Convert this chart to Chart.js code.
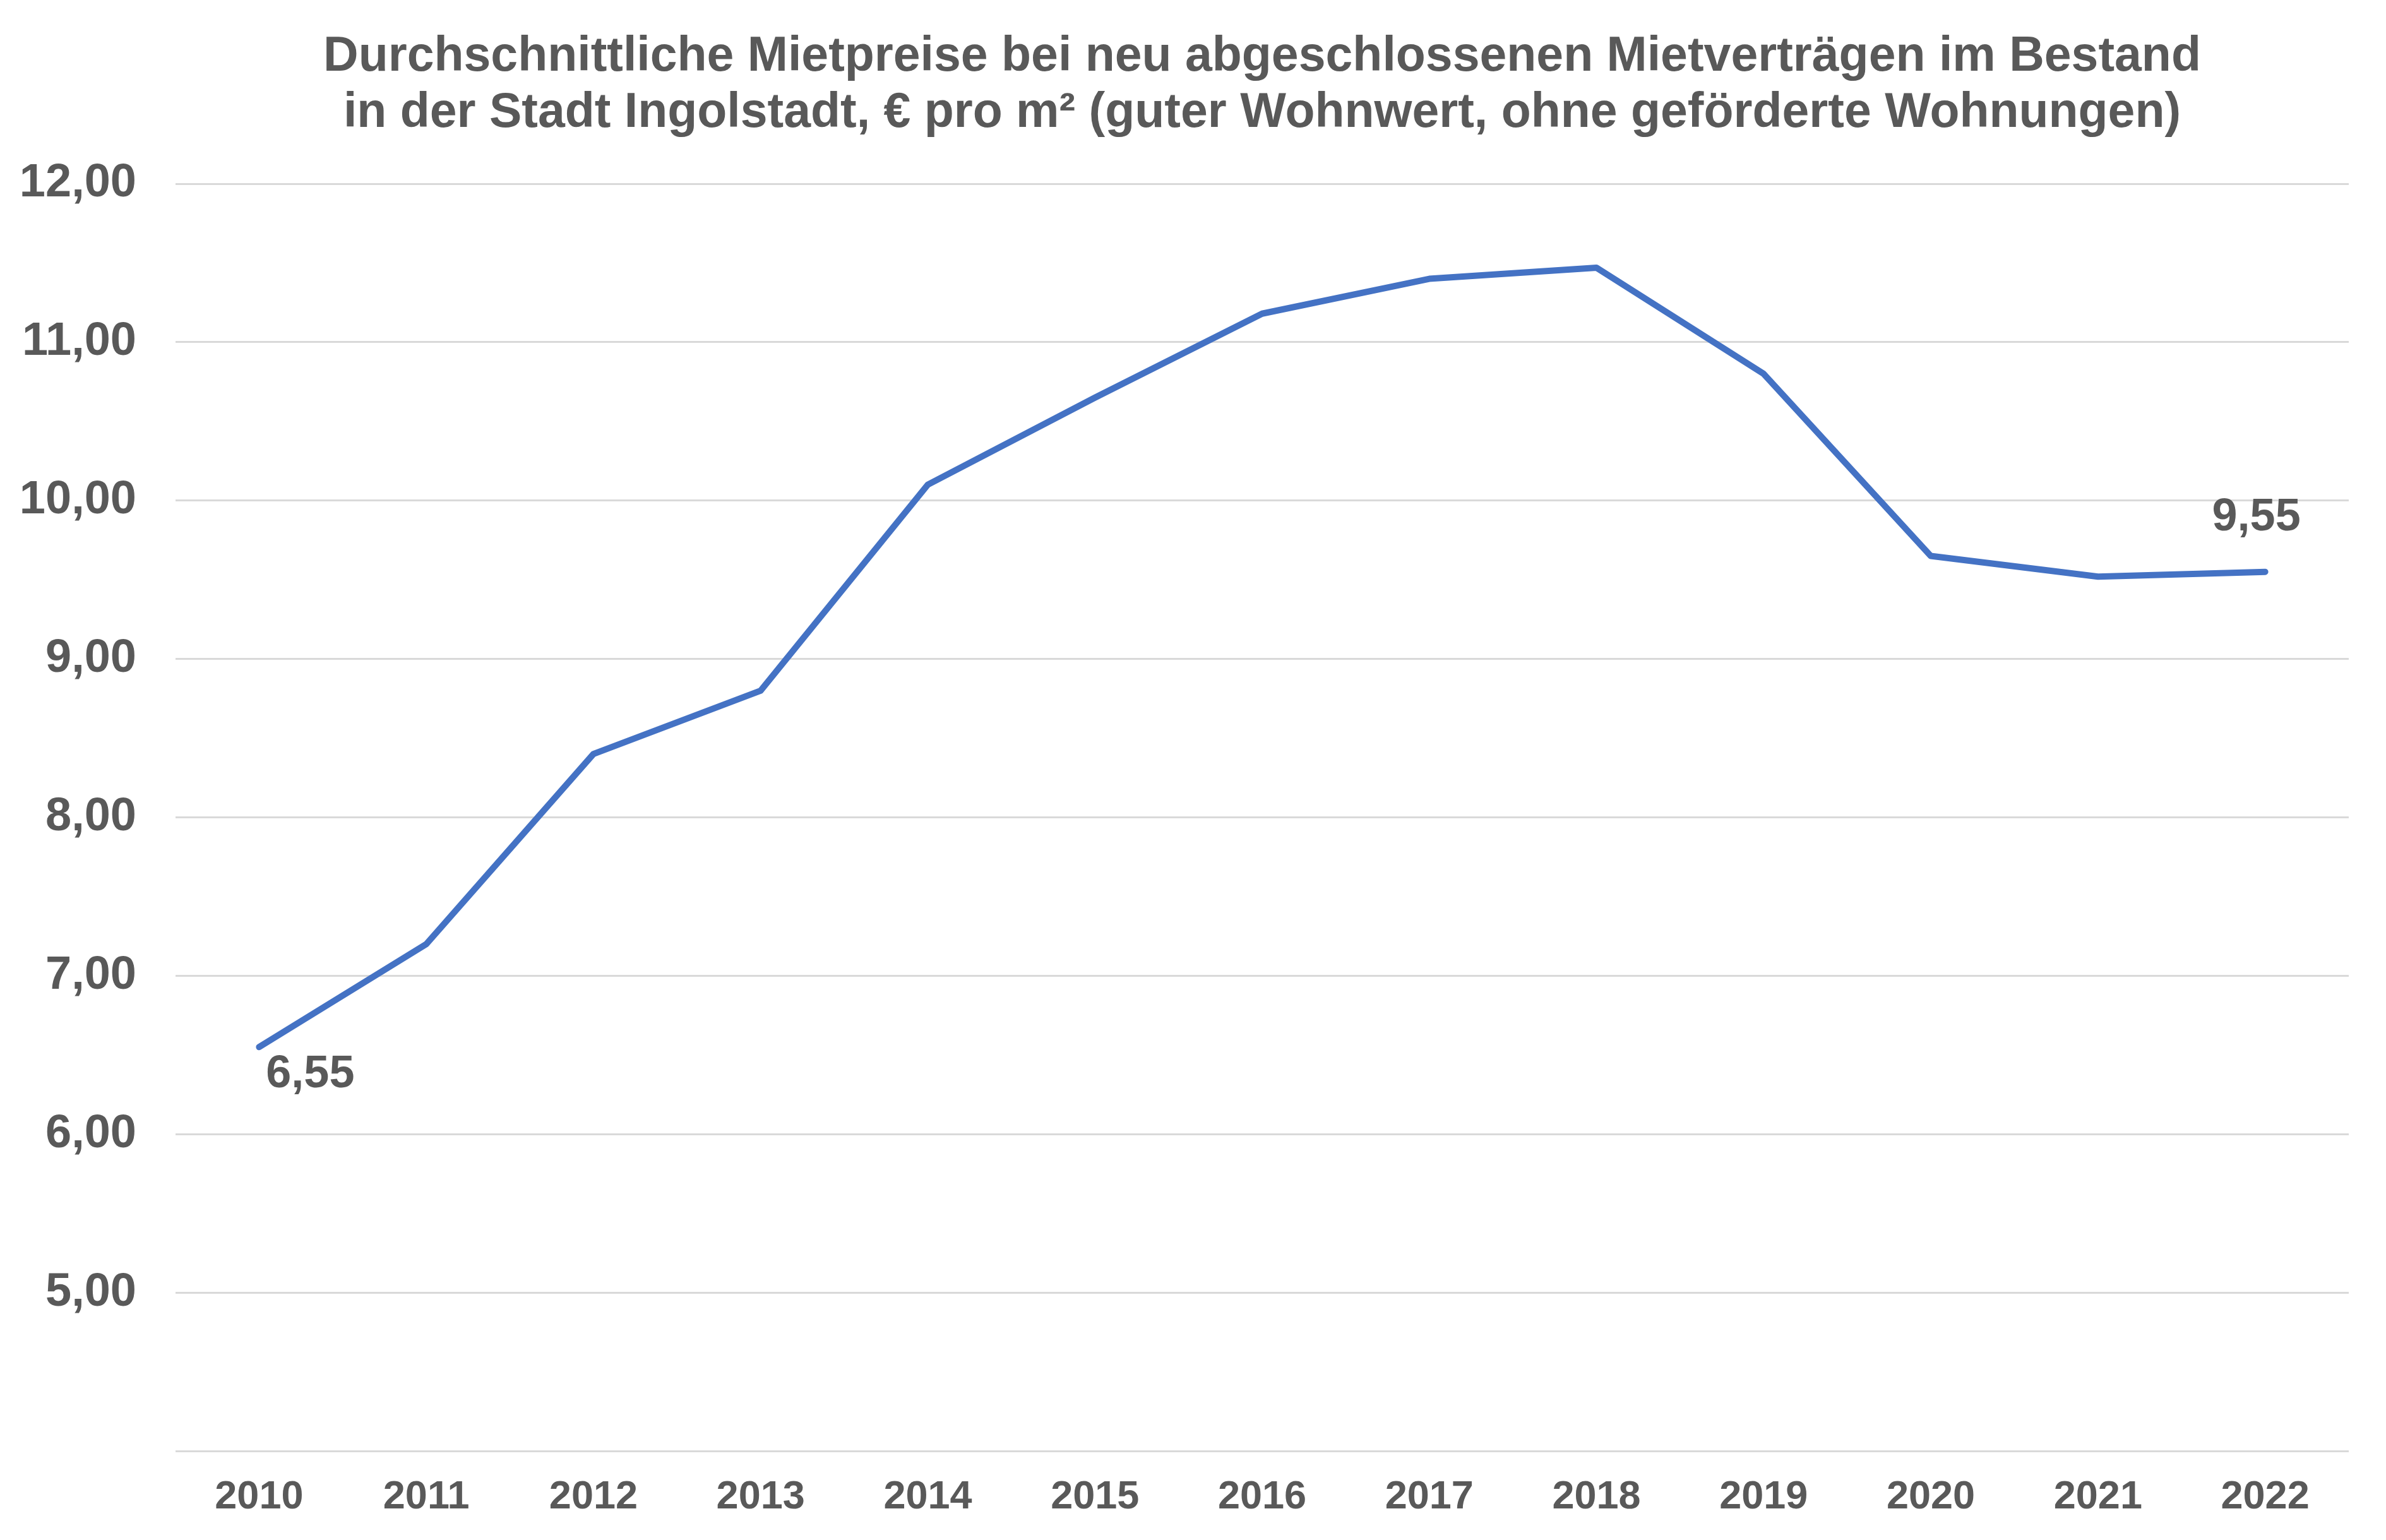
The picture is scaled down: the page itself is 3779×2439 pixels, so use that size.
<!DOCTYPE html>
<html lang="de">
<head>
<meta charset="utf-8">
<title>Mietpreise Ingolstadt</title>
<script src="https://cdn.jsdelivr.net/npm/chart.js@4.4.1/dist/chart.umd.min.js"></script>
<style>
  html, body { margin: 0; padding: 0; background: #ffffff; }
  #wrap { width: 3779px; height: 2439px; position: relative; }
</style>
</head>
<body>
<div id="wrap"><canvas id="line-chart"></canvas></div>
<script>
// Daten
const jahre = ['2010', '2011', '2012', '2013', '2014', '2015', '2016', '2017', '2018', '2019', '2020', '2021', '2022'];
const mietpreise = [6.55, 7.20, 8.40, 8.80, 10.10, 10.65, 11.18, 11.40, 11.47, 10.80, 9.65, 9.52, 9.55];
const titelZeilen = [
    'Durchschnittliche Mietpreise bei neu abgeschlossenen Mietverträgen im Bestand',
    'in der Stadt Ingolstadt, € pro m² (guter Wohnwert, ohne geförderte Wohnungen)'
];
const yMin = 4;
const yMax = 12;

const grau = '#595959';
Chart.defaults.font.family = "'Liberation Sans', Arial, sans-serif";
Chart.defaults.color = grau;

function zahlDe(v) {
    return v.toFixed(2).replace('.', ',');
}

// Beschriftung nur am ersten und letzten Punkt
const wertLabels = {
    id: 'wertLabels',
    afterDatasetsDraw(chart) {
        const meta = chart.getDatasetMeta(0);
        const ctx = chart.ctx;
        const letzte = mietpreise.length - 1;
        const stellen = [
            { i: 0, dx: 81, dy: 44 },
            { i: letzte, dx: -14, dy: -86 }
        ];
        ctx.save();
        ctx.font = "bold 72px 'Liberation Sans', Arial, sans-serif";
        ctx.fillStyle = grau;
        ctx.textAlign = 'center';
        ctx.textBaseline = 'middle';
        stellen.forEach(s => {
            const p = meta.data[s.i];
            ctx.fillText(zahlDe(mietpreise[s.i]), p.x + s.dx, p.y + s.dy);
        });
        ctx.restore();
    }
};

const ctx = document.getElementById('line-chart').getContext('2d');
new Chart(ctx, {
    type: 'line',
    data: {
        labels: jahre,
        datasets: [{
            label: 'Mietpreis',
            data: mietpreise,
            borderColor: '#4472C4',
            borderWidth: 10,
            borderCapStyle: 'round',
            borderJoinStyle: 'round',
            pointRadius: 0,
            tension: 0,
            fill: false
        }]
    },
    options: {
        responsive: true,
        maintainAspectRatio: false,
        devicePixelRatio: 1,
        animation: false,
        layout: {
            padding: { left: 30, right: 59, top: 0, bottom: 29 }
        },
        plugins: {
            legend: { display: false },
            tooltip: { enabled: false },
            title: {
                display: true,
                text: titelZeilen,
                fullSize: false,
                align: 'center',
                color: grau,
                font: { size: 77, weight: 'bold', lineHeight: 1.156 },
                padding: { top: 46, bottom: 67 }
            }
        },
        scales: {
            x: {
                offset: true,
                grid: { display: false, drawTicks: false },
                border: { display: false },
                ticks: {
                    autoSkip: false,
                    maxRotation: 0,
                    padding: 36,
                    color: grau,
                    font: { size: 63, weight: 'bold' }
                },
                afterFit: s => { s.height = 112; }
            },
            y: {
                min: yMin,
                max: yMax,
                grid: { color: '#D9D9D9', lineWidth: 3, drawTicks: false },
                border: { display: false },
                ticks: {
                    stepSize: 1,
                    padding: 62,
                    color: grau,
                    font: { size: 74, weight: 'bold' },
                    callback: v => (v === yMin ? '' : zahlDe(v))
                },
                afterFit: s => { s.width = 248; }
            }
        }
    },
    plugins: [wertLabels]
});
</script>
</body>
</html>
